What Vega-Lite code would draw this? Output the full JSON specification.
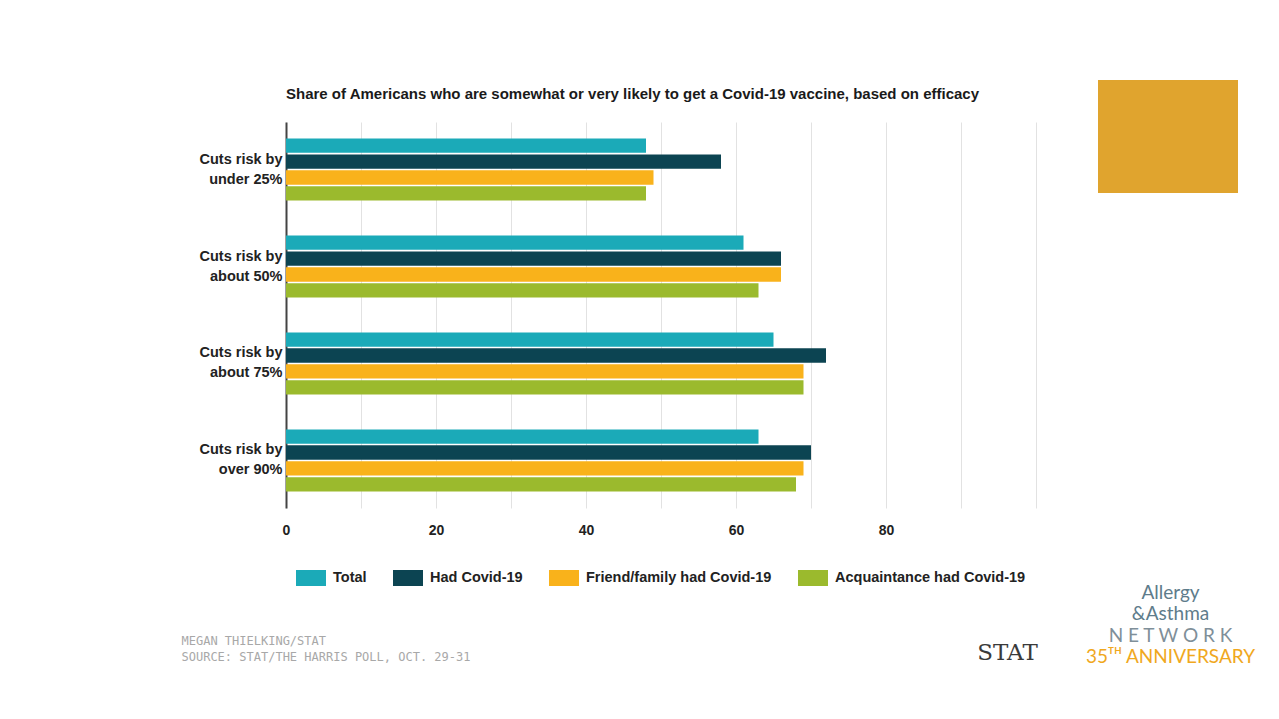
{
  "$schema": "https://vega.github.io/schema/vega-lite/v6.json",
  "background": "white",
  "autosize": {"type": "pad"},
  "padding": {"left": 181, "top": 80, "right": 0, "bottom": 0},
  "config": {"view": {"stroke": null}},
  "spacing": 47,
  "resolve": {
    "scale": {"color": "independent", "size": "independent", "y": "independent", "x": "independent"},
    "legend": {"color": "independent", "size": "independent"}
  },
  "hconcat": [
    {
      "spacing": 6,
      "vconcat": [
        {
          "width": 750,
          "height": 1,
          "data": {"values": []},
          "mark": {"type": "rect"}
        },
        {
          "width": 750,
          "height": 386,
          "title": {
            "text": "Share of Americans who are somewhat or very likely to get a Covid-19 vaccine, based on efficacy",
            "anchor": "start",
            "frame": "group",
            "offset": 20,
            "font": "Liberation Sans",
            "fontSize": 15,
            "fontWeight": "bold",
            "color": "#1a1a1a"
          },
          "data": {
            "values": [
              {"efficacy": "Cuts risk by under 25%", "group": "Total", "share": 48},
              {"efficacy": "Cuts risk by under 25%", "group": "Had Covid-19", "share": 58},
              {"efficacy": "Cuts risk by under 25%", "group": "Friend/family had Covid-19", "share": 49},
              {"efficacy": "Cuts risk by under 25%", "group": "Acquaintance had Covid-19", "share": 48},
              {"efficacy": "Cuts risk by about 50%", "group": "Total", "share": 61},
              {"efficacy": "Cuts risk by about 50%", "group": "Had Covid-19", "share": 66},
              {"efficacy": "Cuts risk by about 50%", "group": "Friend/family had Covid-19", "share": 66},
              {"efficacy": "Cuts risk by about 50%", "group": "Acquaintance had Covid-19", "share": 63},
              {"efficacy": "Cuts risk by about 75%", "group": "Total", "share": 65},
              {"efficacy": "Cuts risk by about 75%", "group": "Had Covid-19", "share": 72},
              {"efficacy": "Cuts risk by about 75%", "group": "Friend/family had Covid-19", "share": 69},
              {"efficacy": "Cuts risk by about 75%", "group": "Acquaintance had Covid-19", "share": 69},
              {"efficacy": "Cuts risk by over 90%", "group": "Total", "share": 63},
              {"efficacy": "Cuts risk by over 90%", "group": "Had Covid-19", "share": 70},
              {"efficacy": "Cuts risk by over 90%", "group": "Friend/family had Covid-19", "share": 69},
              {"efficacy": "Cuts risk by over 90%", "group": "Acquaintance had Covid-19", "share": 68}
            ]
          },
          "mark": {"type": "bar"},
          "encoding": {
            "y": {
              "field": "efficacy",
              "type": "nominal",
              "sort": ["Cuts risk by under 25%", "Cuts risk by about 50%", "Cuts risk by about 75%", "Cuts risk by over 90%"],
              "scale": {"paddingInner": 0.36, "paddingOuter": 0.17},
              "axis": {
                "title": "STAT",
                "titleFont": "DejaVu Serif",
                "titleFontSize": 23,
                "titleFontWeight": "normal",
                "titleColor": "#3a3a3a",
                "titleAngle": 0,
                "titleX": 721,
                "titleY": 530,
                "titleAlign": "center",
                "titleBaseline": "middle",
                "labelExpr": "[slice(datum.label, 0, 12), slice(datum.label, 13)]",
                "labelFont": "Liberation Sans",
                "labelFontSize": 14.5,
                "labelFontWeight": "bold",
                "labelColor": "#222222",
                "labelLineHeight": 20,
                "labelOffset": -10,
                "labelPadding": 4,
                "labelLimit": 0,
                "ticks": false,
                "domain": true,
                "domainColor": "#444444",
                "domainWidth": 2,
                "grid": false
              }
            },
            "yOffset": {
              "field": "group",
              "type": "nominal",
              "sort": ["Total", "Had Covid-19", "Friend/family had Covid-19", "Acquaintance had Covid-19"],
              "scale": {"paddingInner": 0.1, "paddingOuter": 0}
            },
            "x": {
              "field": "share",
              "type": "quantitative",
              "scale": {"domain": [0, 100], "nice": false},
              "axis": {
                "values": [0, 10, 20, 30, 40, 50, 60, 70, 80, 90, 100],
                "labelExpr": "datum.value % 20 == 0 && datum.value < 100 ? datum.label : ''",
                "labelFlush": false,
                "labelOverlap": false,
                "ticks": false,
                "domain": false,
                "grid": true,
                "gridColor": "#e2e2e2",
                "gridWidth": 1,
                "labelFont": "Liberation Sans",
                "labelFontSize": 14,
                "labelFontWeight": "bold",
                "labelColor": "#222222",
                "labelPadding": 15,
                "title": ["MEGAN THIELKING/STAT", "SOURCE: STAT/THE HARRIS POLL, OCT. 29-31"],
                "titleFont": "DejaVu Sans Mono",
                "titleFontSize": 12,
                "titleFontWeight": "normal",
                "titleColor": "#a8a8a8",
                "titleX": -105,
                "titleY": 127,
                "titleAlign": "left",
                "titleBaseline": "top",
                "titleLineHeight": 16
              }
            },
            "color": {
              "field": "group",
              "type": "nominal",
              "sort": ["Total", "Had Covid-19", "Friend/family had Covid-19", "Acquaintance had Covid-19"],
              "scale": {
                "domain": ["Total", "Had Covid-19", "Friend/family had Covid-19", "Acquaintance had Covid-19"],
                "range": ["#1BAAB8", "#0C4452", "#F9B21B", "#9BBA2D"]
              },
              "legend": {
                "orient": "none",
                "legendX": 10,
                "legendY": 483,
                "direction": "horizontal",
                "title": null,
                "symbolType": "M-1,-0.533H1V0.533H-1Z",
                "symbolSize": 900,
                "symbolStrokeWidth": 0,
                "symbolOpacity": 1,
                "labelFont": "Liberation Sans",
                "labelFontSize": 14.5,
                "labelFontWeight": "bold",
                "labelColor": "#222222",
                "labelOffset": 7,
                "labelLimit": 400,
                "columnPadding": 26,
                "padding": 0
              }
            }
          }
        }
      ]
    },
    {
      "spacing": 389,
      "resolve": {
        "scale": {"color": "independent", "size": "independent"},
        "legend": {"color": "independent", "size": "independent"}
      },
      "vconcat": [
        {
          "width": 140,
          "height": 113,
          "data": {"values": [{}]},
          "mark": {"type": "rect", "color": "#E0A42E"}
        },
        {
          "width": 145,
          "height": 86,
          "data": {
            "values": [
              {"line": "Allergy"},
              {"line": "&Asthma"},
              {"line": "N E T W O R K"},
              {"line": "35ᵀᴴ ANNIVERSARY"}
            ]
          },
          "mark": {"type": "text", "align": "center", "baseline": "middle", "font": "Lato"},
          "encoding": {
            "y": {"field": "line", "type": "nominal", "sort": null, "axis": null, "scale": {"paddingInner": 0, "paddingOuter": 0}},
            "text": {"field": "line"},
            "color": {
              "field": "line",
              "type": "nominal",
              "sort": null,
              "legend": null,
              "scale": {"domain": ["Allergy", "&Asthma", "N E T W O R K", "35ᵀᴴ ANNIVERSARY"], "range": ["#5E7C8B", "#5E7C8B", "#7f8f99", "#F0A81E"]}
            },
            "size": {
              "field": "line",
              "type": "ordinal",
              "sort": null,
              "legend": null,
              "scale": {"domain": ["Allergy", "&Asthma", "N E T W O R K", "35ᵀᴴ ANNIVERSARY"], "range": [19, 19, 9, 12]}
            }
          }
        }
      ]
    }
  ]
}
